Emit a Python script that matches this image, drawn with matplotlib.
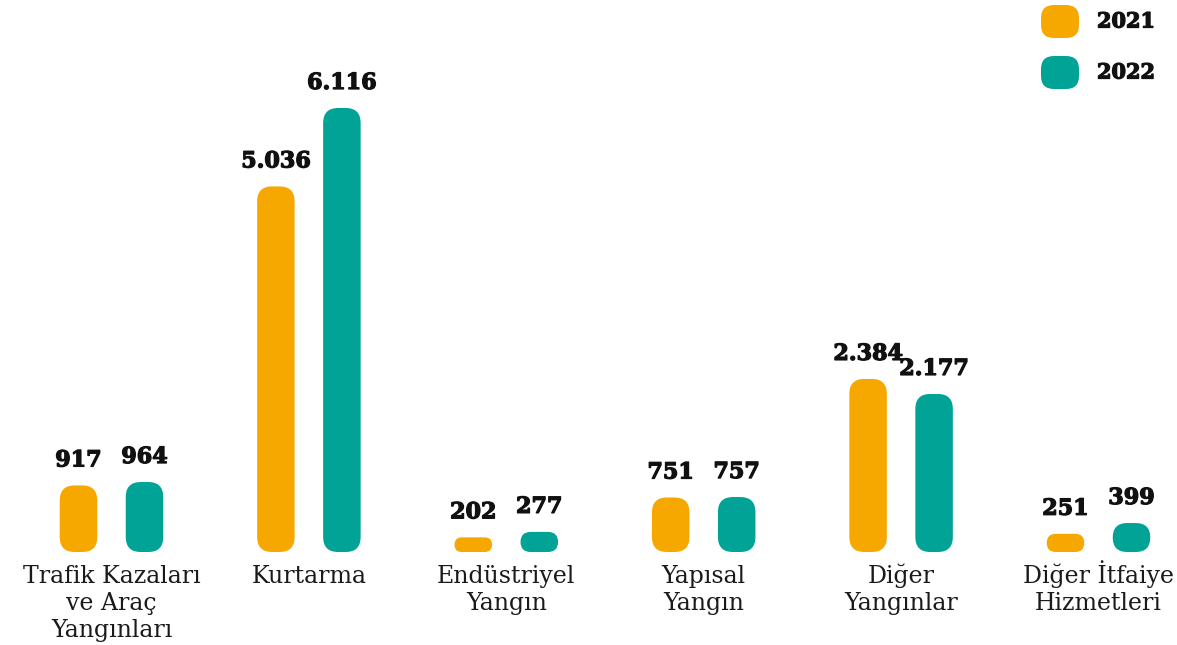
import matplotlib
matplotlib.use("Agg")
import matplotlib.pyplot as plt
import matplotlib.patheffects as pe
from matplotlib.patches import FancyBboxPatch
import numpy as np

categories = ["Trafik Kazaları\nve Araç\nYangınları", "Kurtarma", "Endüstriyel\nYangın",
              "Yapısal\nYangın", "Diğer\nYangınlar", "Diğer İtfaiye\nHizmetleri"]
series_names = ["2021", "2022"]
values_2021 = [917, 5036, 202, 751, 2384, 251]
values_2022 = [964, 6116, 277, 757, 2177, 399]
colors = ["#F6A800", "#00A395"]

W, H = 1177, 645
fig = plt.figure(figsize=(W / 100, H / 100), dpi=100)
ax = fig.add_axes([0, 93 / H, 1, 552 / H])
ax.set_xlim(-0.5648, -0.5648 + W / 197.4)
ax.set_ylim(0, 6116 * 552 / 444)
ax.axis("off")

x = np.arange(len(categories))
off = 33 / 197.4
bw = 37.5 / 197.4
fmt = lambda v: f"{v:,}".replace(",", ".")
heavy = [pe.withStroke(linewidth=0.9, foreground="#111111")]

fig.canvas.draw()
bb = ax.get_window_extent()
xl, yl = ax.get_xlim(), ax.get_ylim()
xu = (xl[1] - xl[0]) / bb.width   # x units per px
yu = (yl[1] - yl[0]) / bb.height  # y units per px
aspect = yu / xu

for s, (vals, col) in enumerate(zip([values_2021, values_2022], colors)):
    bars = ax.bar(x + (s - 0.5) * 2 * off, vals, width=bw, color=col)
    for rect, v in zip(bars, vals):
        rect.set_visible(False)
        x0, w, h = rect.get_x(), rect.get_width(), rect.get_height()
        hp = h / yu
        wp = w / xu
        r_px = min(15, hp / 2, wp / 2)
        p = FancyBboxPatch((x0, 0), w, h,
                           boxstyle=f"round,pad=0,rounding_size={r_px * xu}",
                           mutation_aspect=aspect, fc=col, ec="none")
        ax.add_patch(p)
        ax.annotate(fmt(v), (x0 + w / 2, h), xytext=(0, 14), textcoords="offset pixels",
                    ha="center", va="bottom", fontsize=16, fontweight="bold",
                    family="DejaVu Serif", color="#111111", path_effects=heavy)

for xi, lab in zip(x, categories):
    for k, line in enumerate(lab.split("\n")):
        ax.annotate(line, (xi, 0), xytext=(0, -31 - 27 * k), textcoords="offset pixels",
                    ha="center", va="baseline", fontsize=17, family="DejaVu Serif",
                    color="#1a1a1a")

# legend
for i, (name, col) in enumerate(zip(series_names, colors)):
    cy = H - (21.5 + 51 * i)
    p = FancyBboxPatch(((1041) / W, (cy - 16.5) / H), 38 / W, 33 / H,
                       boxstyle=f"round,pad=0,rounding_size={13 / W}",
                       mutation_aspect=W / H, fc=col, ec="none",
                       transform=fig.transFigure)
    fig.patches.append(p)
    fig.text(1097 / W, cy / H, name, ha="left", va="center", fontsize=15,
             fontweight="bold", family="DejaVu Serif", color="#111111",
             path_effects=heavy)

fig.savefig("out.png", dpi=100)
